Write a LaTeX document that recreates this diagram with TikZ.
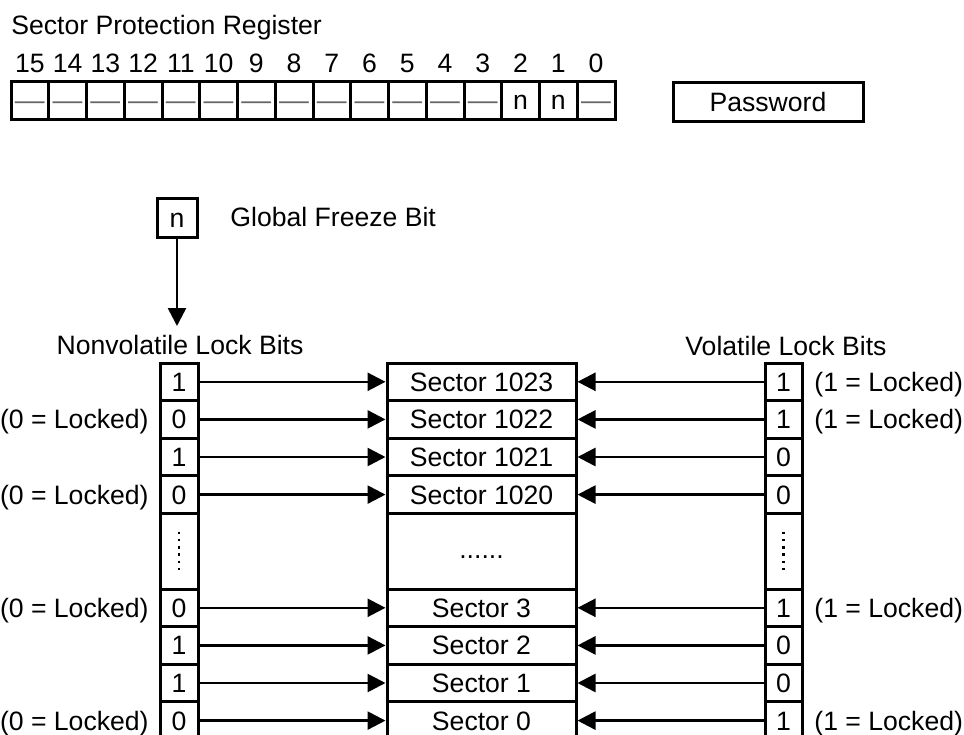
\documentclass[tikz,border=0pt]{standalone}
\usepackage{fontspec}
\setmainfont{Liberation Sans}
\usetikzlibrary{arrows.meta}
\newcommand\regdash{\textcolor{black!60}{\scalebox{1.12}[1]{—}}}
\begin{document}
\begin{tikzpicture}[x=0.5pt,y=-0.5pt,
  font=\fontsize{13.3pt}{15pt}\selectfont,
  box/.style={draw, line width=1.5pt, inner sep=0pt, text height=9.5pt, text depth=0pt},
  regcell/.style={box, minimum width=18.875pt, minimum height=19pt},
  lcell/.style={box, minimum width=19pt, minimum height=18.8pt},
  scell/.style={box, minimum width=94.5pt, minimum height=18.8pt},
  rcell/.style={box, minimum width=18.5pt, minimum height=18.8pt},
  arr/.style={line width=1.3pt, -{Triangle[length=9pt,width=9pt]}},
  dotline/.style={line width=1.2pt, dash pattern=on 1.2pt off 2.45pt},
  lbl/.style={inner sep=0pt, text height=9.5pt, text depth=0pt}]
\useasboundingbox (0,0) rectangle (964,734);
\clip (0,0) rectangle (964,734);

% title
\node[lbl, anchor=west] (title) at (11,25) {Sector Protection Register};

% register
\foreach \i in {0,...,15} {
  \pgfmathsetmacro\cx{11+37.75*(\i+0.5)}
  \pgfmathtruncatemacro\b{15-\i}
  \node[regcell] (rc\i) at (\cx,100) {\ifnum\b=1 n\else\ifnum\b=2 n\else\regdash\fi\fi};
  \node[lbl] (bn\i) at (\cx,63) {\b};
}

% password
\node[box, minimum width=95pt, minimum height=19.5pt] (pw) at (768,101.5) {Password};

% global freeze bit
\node[box, minimum width=20pt, minimum height=19.5pt] (gf) at (177,217.5) {n};
\node[lbl, anchor=west] (gft) at (230,217) {Global Freeze Bit};
\coordinate (gftip) at (177,326);
\draw[arr] (gf.south) -- (gftip);

% column titles
\node[lbl] (nvt) at (180,345) {Nonvolatile Lock Bits};
\node[lbl] (vt) at (786,346) {Volatile Lock Bits};

% rows
\foreach \k/\yc/\lv/\sv/\rv in {1/381.8/1/1023/1, 2/419.4/0/1022/1, 3/457/1/1021/0, 4/494.6/0/1020/0,
                               5/607.8/0/3/1, 6/645.4/1/2/0, 7/683/1/1/0, 8/720.6/0/0/1} {
  \node[lcell] (l\k) at (179,\yc) {\lv};
  \node[scell] (s\k) at (481.5,\yc) {Sector \sv};
  \node[rcell] (r\k) at (783.5,\yc) {\rv};
  \draw[arr] (l\k.east) -- (s\k.west);
  \draw[arr] (r\k.west) -- (s\k.east);
  \ifnum\lv=0 \node[lbl, anchor=east] (la\k) at (149,\yc) {(0 = Locked)};\fi
  \ifnum\rv=1 \node[lbl, anchor=west] (ra\k) at (814,\yc) {(1 = Locked)};\fi
}

% dotted gap rows
\node[box, minimum width=19pt, minimum height=37.8pt] (lD) at (179,551.2) {};
\node[box, minimum width=94.5pt, minimum height=37.8pt] (sD) at (481.5,551.2) {};
\node[box, minimum width=18.5pt, minimum height=37.8pt] (rD) at (783.5,551.2) {};
\node[lbl] (sDt) at (481.5,549) {......};
\draw[dotline] (179,531.5) -- (179,570);
\draw[dotline] (783.5,531.5) -- (783.5,570);
\end{tikzpicture}
\end{document}
